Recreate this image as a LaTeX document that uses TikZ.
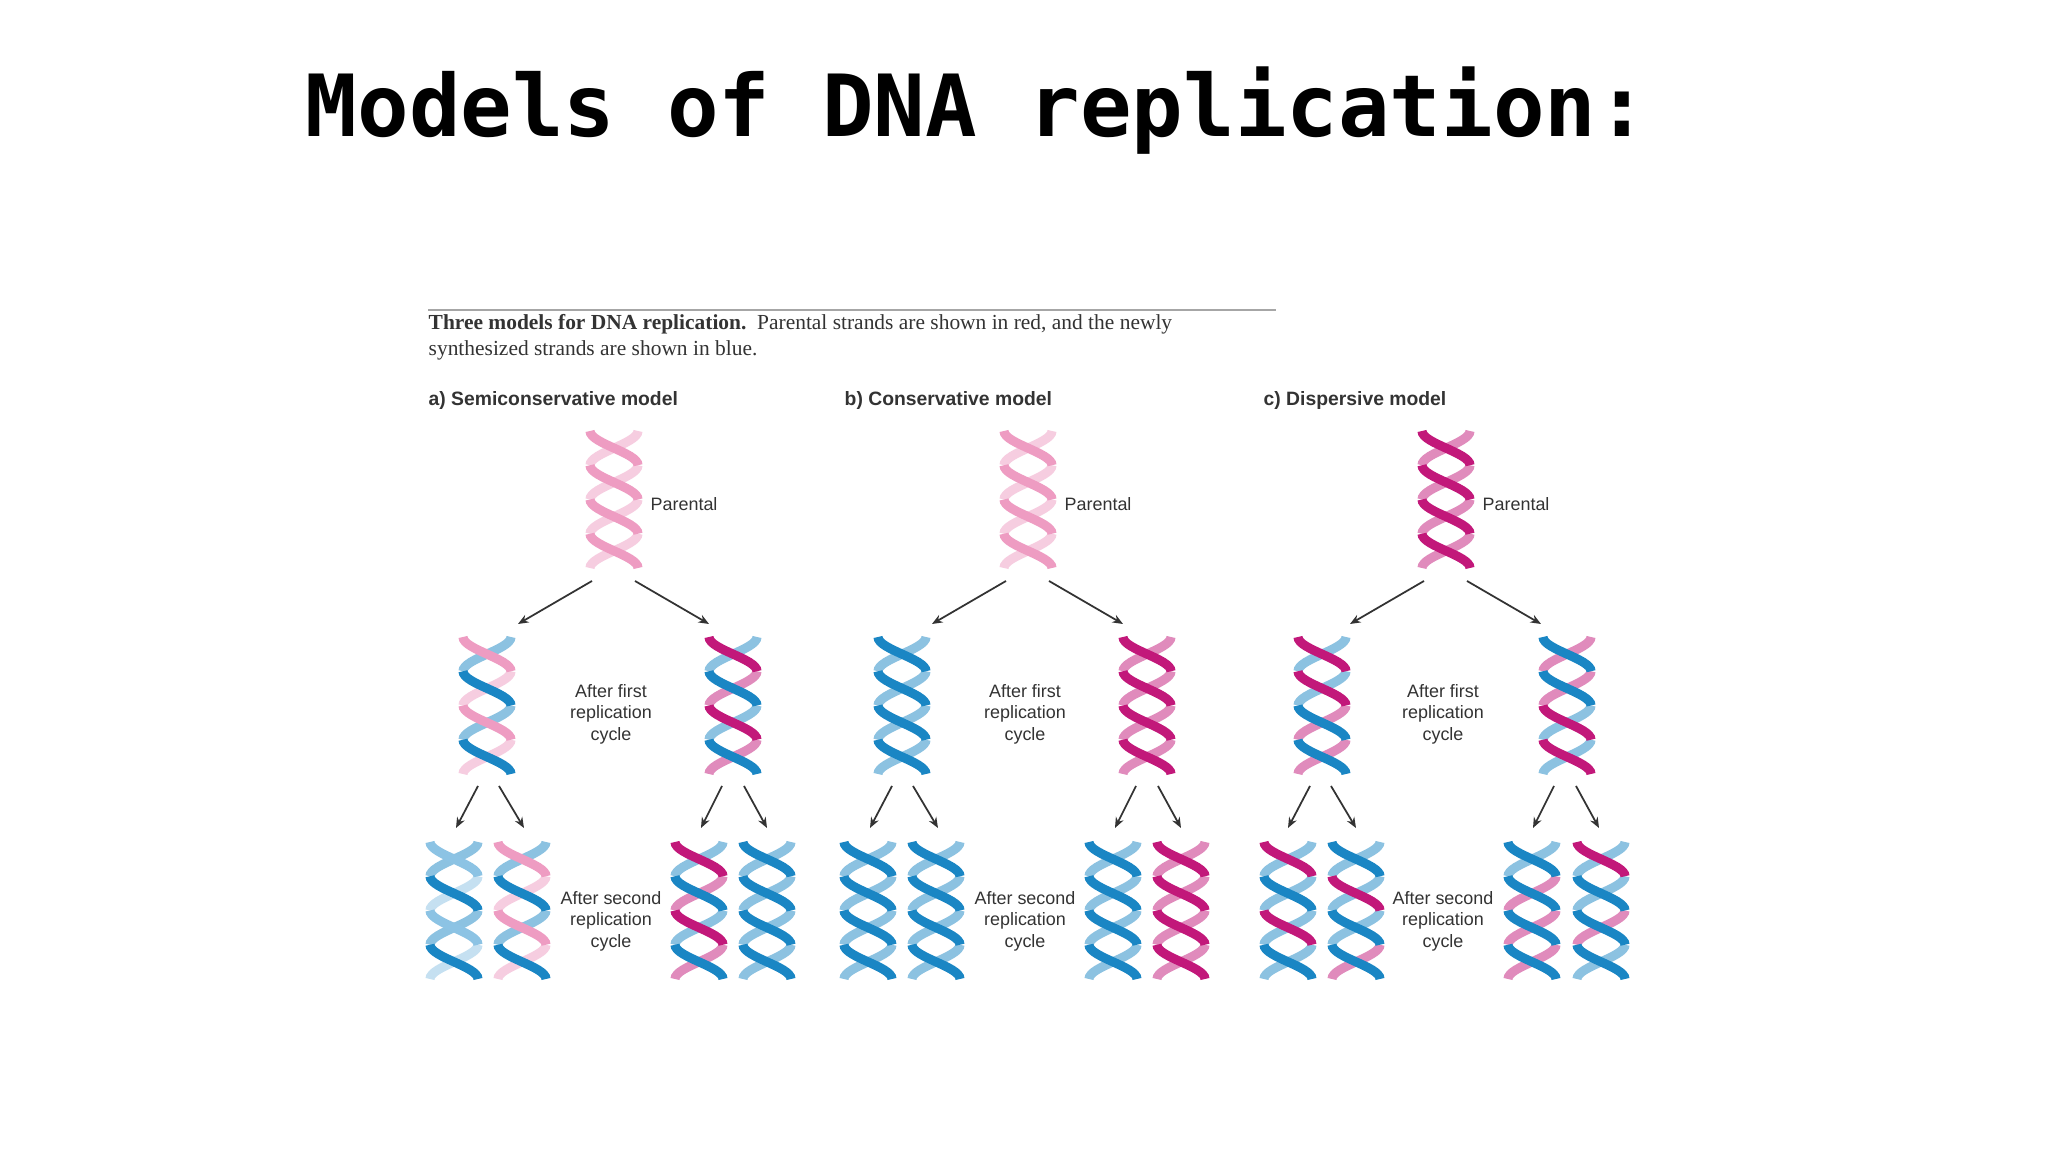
\documentclass[tikz,border=0pt]{standalone}
\usepackage{fontspec}
\usetikzlibrary{arrows.meta}
\setmainfont{Liberation Serif}
\setsansfont{Liberation Sans}
\newfontfamily\monob{DejaVu Sans Mono}
\begin{document}
\definecolor{pk}{HTML}{C2187A}
\definecolor{pkl}{HTML}{EE9CC2}
\definecolor{bl}{HTML}{1A86C4}
\definecolor{bll}{HTML}{8CC3E4}
\definecolor{txt}{HTML}{333333}
\newcommand\hA{0.24}
\newcommand\hP{0.685}
% #1 x, #2 top y, #3 strand A colours (4), #4 strand B colours (4)
\newcommand\helix[4]{%
 \foreach \c [count=\i from 0] in {#3}{%
  \pgfmathsetmacro\a{-90+180*\i}\pgfmathsetmacro\b{\a+180}%
  \ifodd\i \draw[strand,\c,opacity=.5] plot[domain=\a:\b,samples=16] ({#1+\hA*sin(\x)},{#2-(\x+90)/360*\hP});\fi}%
 \foreach \c [count=\i from 0] in {#4}{%
  \pgfmathsetmacro\a{-90+180*\i}\pgfmathsetmacro\b{\a+180}%
  \ifodd\i\else \draw[strand,\c,opacity=.5] plot[domain=\a:\b,samples=16] ({#1-\hA*sin(\x)},{#2-(\x+90)/360*\hP});\fi}%
 \foreach \c [count=\i from 0] in {#3}{%
  \pgfmathsetmacro\a{-90+180*\i}\pgfmathsetmacro\b{\a+180}%
  \ifodd\i\else \draw[strand,\c] plot[domain=\a:\b,samples=16] ({#1+\hA*sin(\x)},{#2-(\x+90)/360*\hP});\fi}%
 \foreach \c [count=\i from 0] in {#4}{%
  \pgfmathsetmacro\a{-90+180*\i}\pgfmathsetmacro\b{\a+180}%
  \ifodd\i \draw[strand,\c] plot[domain=\a:\b,samples=16] ({#1-\hA*sin(\x)},{#2-(\x+90)/360*\hP});\fi}%
}
\begin{tikzpicture}[
  strand/.style={line width=2.6pt,line cap=butt},
  lab/.style={font=\sffamily\fontsize{5.1pt}{6.1pt}\selectfont,text=txt,align=center,inner sep=0},
  head/.style={font=\sffamily\bfseries\fontsize{5.5pt}{6.5pt}\selectfont,text=txt,anchor=west,inner sep=0},
  arr/.style={-{Stealth[length=3pt,width=2.4pt]},line width=0.5pt,draw=txt}]
\useasboundingbox (0,0) rectangle (20.48,11.52);
\fill[white] (0,0) rectangle (20.48,11.52);
\node[font=\monob\bfseries\fontsize{24.4pt}{28pt}\selectfont,inner sep=0] (title) at (9.77,10.41) {Models of DNA replication:};
\draw[gray!70,line width=0.4pt] (4.28,8.42) coordinate (r1) -- (12.76,8.42) coordinate (r2);
\node[anchor=west,inner sep=0,font=\fontsize{6.1pt}{7.2pt}\selectfont,text=txt] (cap1) at (4.28,8.28) {\textbf{Three models for DNA replication.}\enspace Parental strands are shown in red, and the newly};
\node[anchor=west,inner sep=0,font=\fontsize{6.1pt}{7.2pt}\selectfont,text=txt] (cap2) at (4.28,8.02) {synthesized strands are shown in blue.};
\node[head] (ha) at (4.28,7.51) {a) Semiconservative model};
\node[head] (hb) at (8.44,7.51) {b) Conservative model};
\node[head] (hc) at (12.63,7.51) {c) Dispersive model};
% arrows, same geometry in each panel
\foreach \s/\n in {0/a,4.14/b,8.32/c}{
 \begin{scope}[xshift=\s cm]
  \coordinate (p1\n) at (5.92,5.71); \coordinate (q1\n) at (5.18,5.28);
  \coordinate (p2\n) at (6.35,5.71); \coordinate (q2\n) at (7.09,5.28);
  \coordinate (p3\n) at (4.78,3.66); \coordinate (q3\n) at (4.56,3.24);
  \coordinate (p4\n) at (4.99,3.66); \coordinate (q4\n) at (5.24,3.24);
  \coordinate (p5\n) at (7.22,3.66); \coordinate (q5\n) at (7.01,3.24);
  \coordinate (p6\n) at (7.44,3.66); \coordinate (q6\n) at (7.67,3.24);
  \foreach \k in {1,...,6}{\draw[arr] (p\k\n) -- (q\k\n);}
  \node[lab,anchor=west] (par\n) at (6.50,6.48) {Parental};
  \node[lab] (f\n) at (6.11,4.38) {After first\\replication\\cycle};
  \node[lab] (s\n) at (6.11,2.31) {After second\\replication\\cycle};
 \end{scope}}
% a) semiconservative
\helix{6.14}{7.21}{pkl,pkl,pkl,pkl}{pkl,pkl,pkl,pkl}
\helix{4.87}{5.15}{pkl,pkl,pkl,pkl}{bl,bl,bl,bl}
\helix{7.33}{5.15}{pk,pk,pk,pk}{bl,bl,bl,bl}
\helix{4.54}{3.10}{bll,bll,bll,bll}{bl,bl,bl,bl}
\helix{5.22}{3.10}{pkl,pkl,pkl,pkl}{bl,bl,bl,bl}
\helix{6.99}{3.10}{pk,pk,pk,pk}{bl,bl,bl,bl}
\helix{7.67}{3.10}{bl,bl,bl,bl}{bl,bl,bl,bl}
% b) conservative
\helix{10.28}{7.21}{pkl,pkl,pkl,pkl}{pkl,pkl,pkl,pkl}
\helix{9.02}{5.15}{bl,bl,bl,bl}{bl,bl,bl,bl}
\helix{11.47}{5.15}{pk,pk,pk,pk}{pk,pk,pk,pk}
\helix{8.68}{3.10}{bl,bl,bl,bl}{bl,bl,bl,bl}
\helix{9.36}{3.10}{bl,bl,bl,bl}{bl,bl,bl,bl}
\helix{11.13}{3.10}{bl,bl,bl,bl}{bl,bl,bl,bl}
\helix{11.81}{3.10}{pk,pk,pk,pk}{pk,pk,pk,pk}
% c) dispersive
\helix{14.46}{7.21}{pk,pk,pk,pk}{pk,pk,pk,pk}
\helix{13.22}{5.15}{pk,bl,bl,pk}{bl,pk,pk,bl}
\helix{15.67}{5.15}{bl,pk,pk,bl}{pk,bl,bl,pk}
\helix{12.88}{3.10}{pk,bl,pk,bl}{bl,bl,bl,bl}
\helix{13.56}{3.10}{bl,bl,bl,pk}{bl,pk,bl,bl}
\helix{15.32}{3.10}{bl,pk,bl,pk}{bl,bl,pk,bl}
\helix{16.01}{3.10}{pk,bl,bl,bl}{bl,bl,pk,bl}
\end{tikzpicture}
\end{document}
